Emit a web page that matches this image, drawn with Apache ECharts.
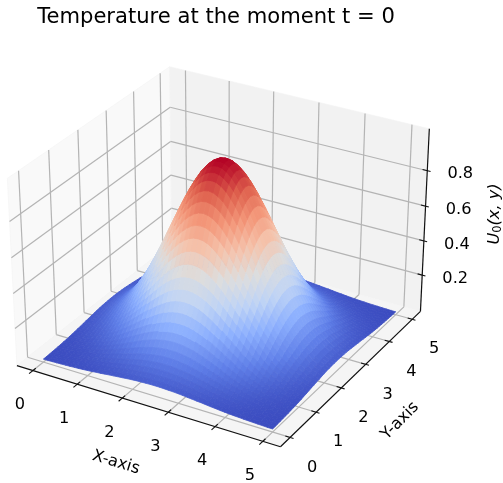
<!DOCTYPE html>
<html><head><meta charset="utf-8"><style>html,body{margin:0;padding:0;background:#fff}#c{width:503px;height:483px}</style>
<script src="https://cdn.jsdelivr.net/npm/echarts@6/dist/echarts.min.js"></script></head><body><div id="c"></div>
<script>
const titleText='Temperature at the moment t = 0';
const xTicks=[0,1,2,3,4,5], yTicks=[0,1,2,3,4,5], zTicks=[0.2,0.4,0.6,0.8];
const xLim=[-0.365,5.365], yLim=[-0.365,5.365], zLim=[-0.0154,1.033];
const gridX=[0,0.1,0.2,0.3,0.4,0.5,0.6,0.7,0.8,0.9,1,1.1,1.2,1.3,1.4,1.5,1.6,1.7,1.8,1.9,2,2.1,2.2,2.3,2.4,2.5,2.6,2.7,2.8,2.9,3,3.1,3.2,3.3,3.4,3.5,3.6,3.7,3.8,3.9,4,4.1,4.2,4.3,4.4,4.5,4.6,4.7,4.8,4.9,5];
// Surface heights read for the quadrant x,y in 0..2.5; the picture is symmetric about x=2.5 and y=2.5.
const u0Quadrant=[
[.002,.002,.003,.004,.005,.006,.007,.009,.010,.012,.014,.016,.019,.021,.024,.027,.029,.032,.034,.037,.039,.041,.042,.043,.044,.044],
[.002,.003,.004,.005,.006,.008,.009,.011,.013,.016,.018,.021,.024,.027,.031,.034,.037,.041,.044,.047,.050,.052,.054,.055,.056,.056],
[.003,.004,.005,.006,.008,.010,.012,.014,.017,.020,.023,.027,.030,.035,.039,.043,.047,.052,.056,.059,.063,.066,.068,.070,.071,.071],
[.004,.005,.006,.008,.010,.012,.015,.018,.021,.025,.029,.033,.038,.043,.049,.054,.059,.065,.070,.074,.078,.082,.085,.087,.088,.089],
[.005,.006,.008,.010,.012,.015,.018,.022,.026,.031,.036,.041,.047,.054,.060,.067,.074,.080,.086,.092,.097,.102,.105,.108,.110,.110],
[.006,.008,.010,.012,.015,.018,.022,.027,.032,.038,.044,.051,.058,.066,.074,.082,.090,.098,.106,.113,.119,.125,.129,.133,.135,.135],
[.007,.009,.012,.015,.018,.022,.027,.033,.039,.046,.053,.062,.071,.080,.090,.100,.110,.119,.129,.137,.145,.152,.157,.161,.164,.164],
[.009,.011,.014,.018,.022,.027,.033,.039,.047,.055,.064,.074,.085,.096,.108,.120,.132,.144,.155,.165,.175,.183,.189,.194,.197,.198],
[.010,.013,.017,.021,.026,.032,.039,.047,.056,.066,.077,.088,.101,.115,.129,.143,.157,.171,.185,.197,.208,.218,.225,.231,.235,.236],
[.012,.016,.020,.025,.031,.038,.046,.055,.066,.077,.090,.104,.119,.135,.152,.169,.185,.202,.218,.232,.245,.257,.266,.273,.277,.278],
[.014,.018,.023,.029,.036,.044,.053,.064,.077,.090,.105,.122,.139,.158,.177,.197,.217,.236,.254,.271,.287,.300,.310,.318,.323,.325],
[.016,.021,.027,.033,.041,.051,.062,.074,.088,.104,.122,.141,.161,.183,.205,.228,.250,.273,.294,.313,.331,.346,.359,.368,.373,.375],
[.019,.024,.030,.038,.047,.058,.071,.085,.101,.119,.139,.161,.185,.209,.235,.261,.287,.312,.336,.359,.379,.397,.411,.421,.427,.430],
[.021,.027,.035,.043,.054,.066,.080,.096,.115,.135,.158,.183,.209,.237,.266,.295,.325,.353,.381,.407,.430,.449,.465,.477,.484,.487],
[.024,.031,.039,.049,.060,.074,.090,.108,.129,.152,.177,.205,.235,.266,.298,.331,.364,.397,.427,.456,.482,.504,.522,.535,.543,.546],
[.027,.034,.043,.054,.067,.082,.100,.120,.143,.169,.197,.228,.261,.295,.331,.368,.405,.440,.475,.507,.535,.560,.580,.595,.603,.607],
[.029,.037,.047,.059,.074,.090,.110,.132,.157,.185,.217,.250,.287,.325,.364,.405,.445,.484,.522,.557,.589,.616,.638,.654,.664,.667],
[.032,.041,.052,.065,.080,.098,.119,.144,.171,.202,.236,.273,.312,.353,.397,.440,.484,.527,.568,.607,.641,.670,.694,.712,.723,.726],
[.034,.044,.056,.070,.086,.106,.129,.155,.185,.218,.254,.294,.336,.381,.427,.475,.522,.568,.613,.654,.691,.723,.748,.767,.779,.783],
[.037,.047,.059,.074,.092,.113,.137,.165,.197,.232,.271,.313,.359,.407,.456,.507,.557,.607,.654,.698,.737,.771,.799,.819,.831,.835],
[.039,.050,.063,.078,.097,.119,.145,.175,.208,.245,.287,.331,.379,.430,.482,.535,.589,.641,.691,.737,.779,.815,.844,.865,.878,.883],
[.041,.052,.066,.082,.102,.125,.152,.183,.218,.257,.300,.346,.397,.449,.504,.560,.616,.670,.723,.771,.815,.852,.883,.905,.919,.923],
[.042,.054,.068,.085,.105,.129,.157,.189,.225,.266,.310,.359,.411,.465,.522,.580,.638,.694,.748,.799,.844,.883,.914,.937,.951,.956],
[.043,.055,.070,.087,.108,.133,.161,.194,.231,.273,.318,.368,.421,.477,.535,.595,.654,.712,.767,.819,.865,.905,.937,.961,.975,.980],
[.044,.056,.071,.088,.110,.135,.164,.197,.235,.277,.323,.373,.427,.484,.543,.603,.664,.723,.779,.831,.878,.919,.951,.975,.990,.995],
[.044,.056,.071,.089,.110,.135,.164,.198,.236,.278,.325,.375,.430,.487,.546,.607,.667,.726,.783,.835,.883,.923,.956,.980,.995,1.000]
];
const mirror=a=>a.concat(a.slice(0,-1).reverse());
const U0=mirror(u0Quadrant.map(mirror));
const coolwarm=[[59,76,192],[96,128,233],[141,176,254],[192,212,245],[221,221,221],[245,196,173],[244,152,122],[222,96,77],[180,4,38]];
const FONT='"DejaVu Sans"';
const box=[1.1905,1.1905,0.8929], n=[0.43301,-0.75,0.5], u=[0.86603,0.5,0], v=[-0.25,0.43301,0.86603];
function proj(x,y,z){
  const p=[((x-xLim[0])/(xLim[1]-xLim[0])-.5)*box[0],((y-yLim[0])/(yLim[1]-yLim[0])-.5)*box[1],((z-zLim[0])/(zLim[1]-zLim[0])-.5)*box[2]];
  const dot=a=>a[0]*p[0]+a[1]*p[1]+a[2]*p[2];
  const D=10-dot(n);
  return [dot(u)/D,dot(v)/D,D];
}
function cmap(t){t=Math.max(0,Math.min(1,t))*(coolwarm.length-1);const i=Math.min(Math.floor(t),coolwarm.length-2),f=t-i;
  const a=coolwarm[i],b=coolwarm[i+1];return 'rgb('+[0,1,2].map(k=>Math.round(a[k]+(b[k]-a[k])*f)).join(',')+')';}
const [x0,x1]=xLim,[y0,y1]=yLim,[z0,z1]=zLim;
const panes=[
 {pts:[[x0,y0,z0],[x0,y1,z0],[x0,y1,z1],[x0,y0,z1]],c:'#f9f9f9'},
 {pts:[[x0,y1,z0],[x1,y1,z0],[x1,y1,z1],[x0,y1,z1]],c:'#f2f2f2'},
 {pts:[[x0,y0,z0],[x1,y0,z0],[x1,y1,z0],[x0,y1,z0]],c:'#f5f5f5'}];
const lines=[];const G='#b4b4b4';
xTicks.forEach(t=>{lines.push([[t,y0,z0],[t,y1,z0],G,1.2],[[t,y1,z0],[t,y1,z1],G,1.2]);});
yTicks.forEach(t=>{lines.push([[x0,t,z0],[x1,t,z0],G,1.2],[[x0,t,z0],[x0,t,z1],G,1.2]);});
zTicks.forEach(t=>{lines.push([[x0,y0,t],[x0,y1,t],G,1.2],[[x0,y1,t],[x1,y1,t],G,1.2]);});
const K='#111';
lines.push([[x0,y0,z0],[x1,y0,z0],K,1.2],[[x1,y0,z0],[x1,y1,z0],K,1.2],[[x1,y1,z0],[x1,y1,z1],K,1.2]);
xTicks.forEach(t=>lines.push([[t,y0-0.13,z0],[t,y0+0.1,z0],K,1.1]));
yTicks.forEach(t=>lines.push([[x1-0.1,t,z0],[x1+0.07,t,z0],K,1.1]));
zTicks.forEach(t=>lines.push([[x1-0.1,y1,t],[x1+0.07,y1,t],K,1.1]));
const texts=[];
xTicks.forEach(t=>texts.push([[t,y0,z0],String(t),-13,34.5]));
yTicks.forEach(t=>texts.push([[x1,t,z0],String(t),22,30]));
zTicks.forEach(t=>texts.push([[x1,y1,t],t.toFixed(1),33,3.5]));
const cells=[];
for(let j=0;j<gridX.length-1;j++)for(let i=0;i<gridX.length-1;i++){
  const q=[[i,j],[i+1,j],[i+1,j+1],[i,j+1]].map(([a,b])=>[gridX[a],gridX[b],U0[b][a]]);
  const m=(q[0][2]+q[1][2]+q[2][2]+q[3][2])/4;
  const d=q.reduce((s,p)=>s+proj(p[0],p[1],p[2])[2],0)/4;
  cells.push({q,m,d});
}
cells.sort((a,b)=>b.d-a.d);
const mins=Math.min(...cells.map(c=>c.m)),maxs=Math.max(...cells.map(c=>c.m));
const poly=(api,pts)=>pts.map(p=>{const r=proj(p[0],p[1],p[2]);return api.coord([r[0],r[1]]);});
const chart=echarts.init(document.getElementById('c'),null,{renderer:'canvas'});
chart.setOption({animation:false,backgroundColor:'#fff',
 title:{text:titleText,left:211,top:2,textAlign:'center',textStyle:{fontFamily:FONT,fontWeight:'normal',fontSize:21.1,color:'#000'}},
 grid:{left:0,right:0,top:0,bottom:0},
 xAxis:{type:'value',min:-0.0877,max:0.11065,show:false},
 yAxis:{type:'value',min:-0.09849,max:0.1036,show:false},
 series:[
 {type:'custom',silent:true,data:panes.map((_,i)=>[i]),renderItem:(p,api)=>{const s=panes[p.dataIndex];
   return {type:'polygon',shape:{points:poly(api,s.pts)},style:{fill:s.c,stroke:'#f4f4f4',lineWidth:.6}};}},
 {type:'custom',silent:true,data:lines.map((_,i)=>[i]),renderItem:(p,api)=>{const s=lines[p.dataIndex];const a=poly(api,[s[0],s[1]]);
   return {type:'line',shape:{x1:a[0][0],y1:a[0][1],x2:a[1][0],y2:a[1][1]},style:{stroke:s[2],lineWidth:s[3]}};}},
 {type:'custom',silent:true,data:cells.map((_,i)=>[i]),renderItem:(p,api)=>{const s=cells[p.dataIndex];const c=cmap((s.m-mins)/(maxs-mins));
   return {type:'polygon',shape:{points:poly(api,s.q)},style:{fill:c,stroke:c,lineWidth:.8}};}},
 {type:'custom',silent:true,data:texts.map((_,i)=>[i]),renderItem:(p,api)=>{const s=texts[p.dataIndex];const a=poly(api,[s[0]])[0];
   return {type:'text',style:{x:a[0]+s[2],y:a[1]+s[3],text:s[1],align:'center',verticalAlign:'middle',font:'16.2px '+FONT,fill:'#000'}};}},
 {type:'custom',silent:true,data:[[0]],renderItem:()=>({type:'group',children:[
   {type:'text',x:116,y:462.5,rotation:-17*Math.PI/180,style:{text:'X-axis',align:'center',verticalAlign:'middle',font:'16.2px '+FONT,fill:'#000'}},
   {type:'text',x:400,y:421,rotation:45*Math.PI/180,style:{text:'Y-axis',align:'center',verticalAlign:'middle',font:'16.2px '+FONT,fill:'#000'}},
   {type:'text',x:495,y:214,rotation:Math.PI/2,style:{text:'{i|U}{s|0}{i|(x, y)}',align:'center',verticalAlign:'middle',rich:{i:{font:'italic 16.2px '+FONT,fill:'#000'},s:{font:'11.5px '+FONT,fill:'#000',verticalAlign:'bottom',padding:[7,0,0,0]}}}}
 ]})}
 ]});
</script></body></html>
